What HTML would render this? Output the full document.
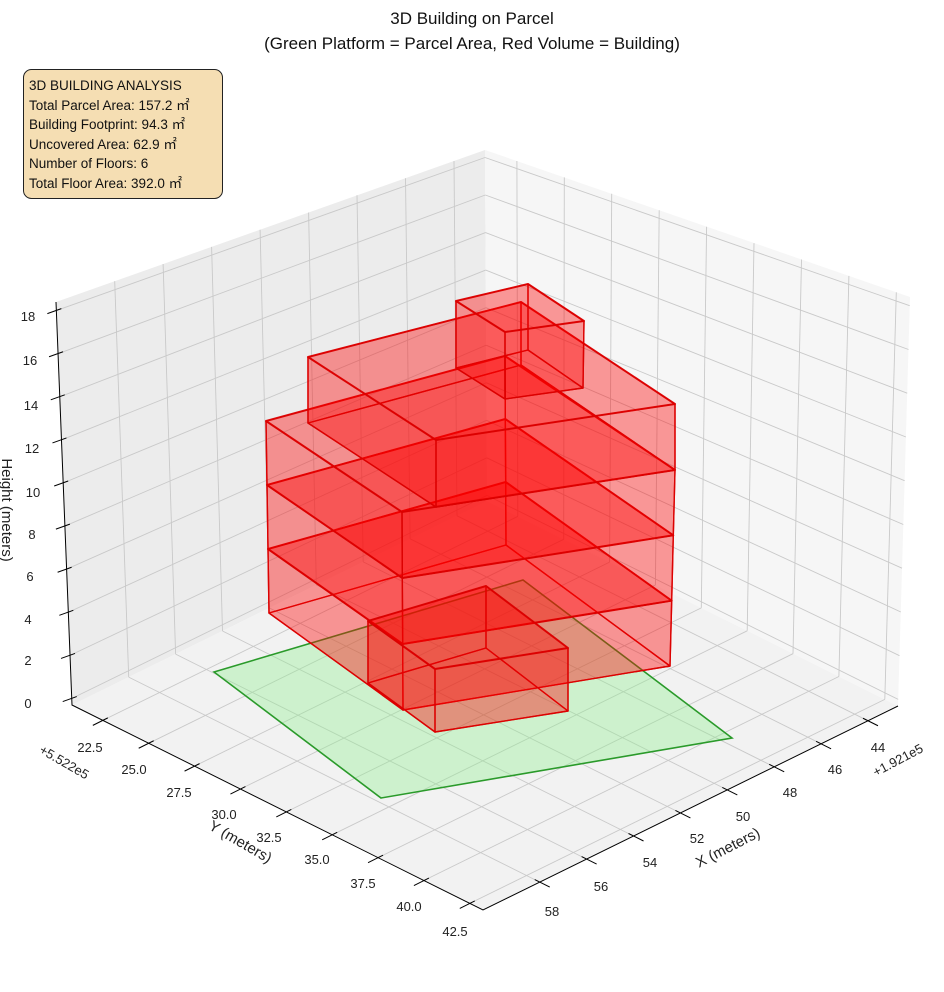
<!DOCTYPE html>
<html><head><meta charset="utf-8"><style>
html,body{margin:0;padding:0;background:#fff;}
svg{display:block;font-family:"Liberation Sans","Noto Sans CJK JP",sans-serif;}
</style></head><body>
<svg id="s" width="944" height="992" viewBox="0 0 944 992" xmlns="http://www.w3.org/2000/svg">
<g id="panes"></g>
<g id="grid" stroke="#c9c9c9" stroke-width="0.9" fill="none"></g>
<polygon points="214,672 523,580 732,738 381,798" fill="rgba(144,238,144,0.38)" stroke="#2a9a2a" stroke-width="1.6"/>
<g id="bld" stroke-linejoin="round"></g>
<g id="axes" stroke="#000" stroke-width="1" fill="none"></g>
<g font-size="13" fill="#222">
<text x="28" y="708" text-anchor="middle">0</text>
<text x="28" y="665" text-anchor="middle">2</text>
<text x="28" y="624" text-anchor="middle">4</text>
<text x="30" y="581" text-anchor="middle">6</text>
<text x="32" y="539" text-anchor="middle">8</text>
<text x="33" y="497" text-anchor="middle">10</text>
<text x="32" y="453" text-anchor="middle">12</text>
<text x="31" y="410" text-anchor="middle">14</text>
<text x="30" y="365" text-anchor="middle">16</text>
<text x="28" y="321" text-anchor="middle">18</text>
<text x="90" y="752" text-anchor="middle">22.5</text>
<text x="134" y="774" text-anchor="middle">25.0</text>
<text x="179" y="797" text-anchor="middle">27.5</text>
<text x="224" y="819" text-anchor="middle">30.0</text>
<text x="269" y="842" text-anchor="middle">32.5</text>
<text x="317" y="864" text-anchor="middle">35.0</text>
<text x="363" y="888" text-anchor="middle">37.5</text>
<text x="409" y="911" text-anchor="middle">40.0</text>
<text x="455" y="936" text-anchor="middle">42.5</text>
<text x="878" y="752" text-anchor="middle">44</text>
<text x="835" y="774" text-anchor="middle">46</text>
<text x="790" y="797" text-anchor="middle">48</text>
<text x="743" y="821" text-anchor="middle">50</text>
<text x="697" y="843" text-anchor="middle">52</text>
<text x="650" y="867" text-anchor="middle">54</text>
<text x="601" y="891" text-anchor="middle">56</text>
<text x="552" y="916" text-anchor="middle">58</text>
<text x="0" y="0" transform="translate(900,764) rotate(-28)" text-anchor="middle">+1.921e5</text>
<text x="0" y="0" transform="translate(62,766) rotate(30)" text-anchor="middle">+5.522e5</text>
</g>
<g font-size="15" fill="#222">
<text transform="translate(730,852) rotate(-27)" text-anchor="middle">X (meters)</text>
<text transform="translate(238,846) rotate(30)" text-anchor="middle">Y (meters)</text>
<text transform="translate(2,510) rotate(90)" text-anchor="middle">Height (meters)</text>
</g>
<g font-size="17" fill="#111" text-anchor="middle">
<text x="472" y="24">3D Building on Parcel</text>
<text x="472" y="49">(Green Platform = Parcel Area, Red Volume = Building)</text>
</g>
<rect x="23.5" y="69.5" width="199" height="129" rx="8" fill="#f5deb3" stroke="#222" stroke-width="1"/>
<g font-size="13.5" fill="#111">
<text x="29" y="90">3D BUILDING ANALYSIS</text>
<text x="29" y="110">Total Parcel Area: 157.2 ㎡</text>
<text x="29" y="129">Building Footprint: 94.3 ㎡</text>
<text x="29" y="149">Uncovered Area: 62.9 ㎡</text>
<text x="29" y="168">Number of Floors: 6</text>
<text x="29" y="188">Total Floor Area: 392.0 ㎡</text>
</g>
</svg>
<script>
(function(){
var NS="http://www.w3.org/2000/svg";
function el(tag,attrs,parent){var e=document.createElementNS(NS,tag);for(var k in attrs)e.setAttribute(k,attrs[k]);parent.appendChild(e);return e;}
function bil(c,s,t){ // c: [p00,p10,p11,p01] s along first, t along second
 var a=c[0],b=c[1],d=c[2],e=c[3];
 return [a[0]*(1-s)*(1-t)+b[0]*s*(1-t)+d[0]*s*t+e[0]*(1-s)*t, a[1]*(1-s)*(1-t)+b[1]*s*(1-t)+d[1]*s*t+e[1]*(1-s)*t];}
var BB=[487,501],BL=[72,705],TL=[56,302],TB=[485,150],BR=[898,706],TR=[910,297],FR=[483,910];
var panes=document.getElementById('panes'),grid=document.getElementById('grid');
function poly(pts){return pts.map(function(p){return p[0].toFixed(1)+','+p[1].toFixed(1)}).join(' ');}
el('polygon',{points:poly([BB,BL,TL,TB]),fill:'#ececec'},panes);
el('polygon',{points:poly([BB,BR,TR,TB]),fill:'#f6f6f6'},panes);
el('polygon',{points:poly([BB,BL,FR,BR]),fill:'#f2f2f2'},panes);
var xmin=42.72,xmax=60.42,ymin=20.82,ymax=43.22,zmin=-0.3,zmax=18.4;
var xt=[44,46,48,50,52,54,56,58],yt=[22.5,25,27.5,30,32.5,35,37.5,40,42.5],zt=[0,2,4,6,8,10,12,14,16,18];
function line(p,q){el('line',{x1:p[0].toFixed(1),y1:p[1].toFixed(1),x2:q[0].toFixed(1),y2:q[1].toFixed(1)},grid);}
// left wall: s = x frac (back->left), t = z
var LW=[BB,BL,TL,TB];
xt.forEach(function(v){var s=(v-xmin)/(xmax-xmin);line(bil(LW,s,0),bil(LW,s,1));});
zt.forEach(function(v){var t=(v-zmin)/(zmax-zmin);line(bil(LW,0,t),bil(LW,1,t));});
// right wall: s = y frac (back->right)
var RW=[BB,BR,TR,TB];
yt.forEach(function(v){var s=(v-ymin)/(ymax-ymin);line(bil(RW,s,0),bil(RW,s,1));});
zt.forEach(function(v){var t=(v-zmin)/(zmax-zmin);line(bil(RW,0,t),bil(RW,1,t));});
// floor: s = x frac (back->left), t = y frac (back->right)
var FL=[BB,BL,FR,BR];
xt.forEach(function(v){var s=(v-xmin)/(xmax-xmin);line(bil(FL,s,0),bil(FL,s,1));});
yt.forEach(function(v){var t=(v-ymin)/(ymax-ymin);line(bil(FL,0,t),bil(FL,1,t));});
// axes
var ax=document.getElementById('axes');
el('polyline',{points:poly([TL,BL,FR,BR])},ax);
zt.forEach(function(v){var t=(v-zmin)/(zmax-zmin);var p=[TL[0]*t+BL[0]*(1-t),TL[1]*t+BL[1]*(1-t)];el('line',{x1:p[0]-9,y1:p[1]+3,x2:p[0]+5,y2:p[1]-2},ax);});
yt.forEach(function(v){var f=(v-ymin)/(ymax-ymin);var p=[BL[0]+(FR[0]-BL[0])*f,BL[1]+(FR[1]-BL[1])*f];el('line',{x1:p[0]-10,y1:p[1]+5,x2:p[0]+5,y2:p[1]-2.5},ax);});
xt.forEach(function(v){var f=(v-xmin)/(xmax-xmin);var p=[BR[0]+(FR[0]-BR[0])*f,BR[1]+(FR[1]-BR[1])*f];el('line',{x1:p[0]+10,y1:p[1]+5,x2:p[0]-5,y2:p[1]-2.5},ax);});
// building
var bld=document.getElementById('bld');
function prism(b,t,sw){
 var st={fill:'rgba(255,0,0,0.22)',stroke:'rgba(220,0,0,0.9)','stroke-width':sw||1.4};
 function f(pts){var a={};for(var k in st)a[k]=st[k];a.points=poly(pts);el('polygon',a,bld);}
 f(b);
 for(var i=0;i<4;i++){var j=(i+1)%4;f([b[i],b[j],t[j],t[i]]);}
 var a={};for(var k in st)a[k]=st[k];a.points=poly(t);a['stroke-width']=2;el('polygon',a,bld);
}
function lerp(b,t,f){return b.map(function(p,i){return [p[0]+(t[i][0]-p[0])*f,p[1]+(t[i][1]-p[1])*f];});}
var mb=[[269,613],[506,545],[670,666],[403,710]],mt=[[266,421],[505,356],[675,470],[402,512]];
for(var k=0;k<3;k++){prism(lerp(mb,mt,k/3),lerp(mb,mt,(k+1)/3));}
prism([[308,423],[521,365],[675,470],[436,507]],[[308,357],[521,302],[675,404],[436,440]]);
prism([[456,368],[528,350],[583,388],[505,399]],[[456,301],[528,284],[584,321],[505,332]]);
prism([[368,683],[486,648],[568,711],[435,732]],[[368,621],[486,586],[568,648],[435,669]]);
})();
</script>
</body></html>
